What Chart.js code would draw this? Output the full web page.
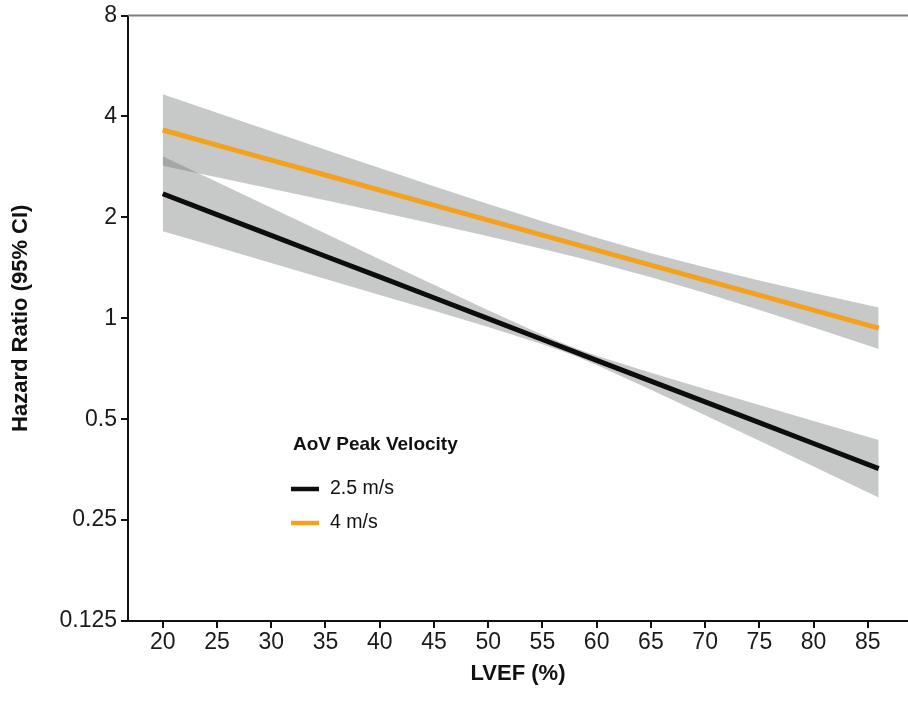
<!DOCTYPE html>
<html>
<head>
<meta charset="utf-8">
<title>Hazard ratio by LVEF</title>
<script src="https://cdn.jsdelivr.net/npm/chart.js@4/dist/chart.umd.min.js"></script>
<style>
  html, body { margin: 0; padding: 0; background: #fff; }
  #wrap { width: 908px; height: 701px; }
</style>
</head>
<body>
<div id="wrap"><canvas id="hr" width="908" height="701"></canvas></div>
<script>
// LVEF grid the curves are sampled on
const lvef = [20, 25, 30, 35, 40, 45, 50, 55, 57.5, 60, 65, 70, 75, 80, 86];

// AoV peak velocity 2.5 m/s: hazard ratio and 95% CI
const hr25      = [2.352, 2.038, 1.767, 1.531, 1.328, 1.151, 0.997, 0.864, 0.805, 0.749, 0.649, 0.563, 0.488, 0.423, 0.356];
const hr25Upper = [3.043, 2.549, 2.137, 1.791, 1.500, 1.258, 1.057, 0.893, 0.827, 0.773, 0.688, 0.615, 0.551, 0.494, 0.433];
const hr25Lower = [1.817, 1.630, 1.461, 1.310, 1.174, 1.052, 0.941, 0.837, 0.783, 0.725, 0.612, 0.514, 0.431, 0.361, 0.292];

// AoV peak velocity 4 m/s: hazard ratio and 95% CI
const hr4      = [3.643, 3.286, 2.964, 2.675, 2.412, 2.176, 1.963, 1.770, 1.682, 1.597, 1.440, 1.299, 1.172, 1.057, 0.934];
const hr4Upper = [4.661, 4.101, 3.611, 3.182, 2.805, 2.477, 2.193, 1.947, 1.841, 1.739, 1.564, 1.419, 1.297, 1.190, 1.077];
const hr4Lower = [2.848, 2.632, 2.433, 2.248, 2.074, 1.911, 1.757, 1.610, 1.538, 1.466, 1.326, 1.189, 1.059, 0.939, 0.810];

const xTicks = [20, 25, 30, 35, 40, 45, 50, 55, 60, 65, 70, 75, 80, 85];
const yTicks = [0.125, 0.25, 0.5, 1, 2, 4, 8];

const seriesNames = ["2.5 m/s", "4 m/s"];
const legendTitle = "AoV Peak Velocity";

const BLACK = "#0d0d0d";
const ORANGE = "#f4a11f";
const BAND = "rgba(100, 104, 106, 0.36)";
const FONT = '"Liberation Sans", Arial, Helvetica, sans-serif';

const pts = (ys) => lvef.map((x, i) => ({ x: x, y: ys[i] }));

const lineStyle = (label, ys, color) => ({
  label: label,
  data: pts(ys),
  borderColor: color,
  borderWidth: 5,
  pointRadius: 0,
  fill: false,
  tension: 0,
});

const bandStyle = (ys, fill) => ({
  data: pts(ys),
  borderWidth: 0,
  borderColor: "transparent",
  backgroundColor: BAND,
  pointRadius: 0,
  fill: fill,
  tension: 0,
});

// legend box inside the plot plus the thin frame line along the top
const velocityLegend = {
  id: "velocityLegend",
  afterDraw(chart, args, opts) {
    const ctx = chart.ctx;
    const area = chart.chartArea;
    ctx.save();

    ctx.strokeStyle = "#7d7d7d";
    ctx.lineWidth = 2;
    ctx.beginPath();
    ctx.moveTo(area.left, area.top);
    ctx.lineTo(area.right, area.top);
    ctx.stroke();

    ctx.textBaseline = "middle";
    ctx.fillStyle = "#111";
    ctx.font = "bold 19px " + FONT;
    ctx.fillText(legendTitle, opts.x + 2, opts.y);

    const colors = [BLACK, ORANGE];
    seriesNames.forEach((name, i) => {
      const y = opts.y + 44 + i * 34;
      ctx.strokeStyle = colors[i];
      ctx.lineWidth = 4.5;
      ctx.beginPath();
      ctx.moveTo(opts.x, y);
      ctx.lineTo(opts.x + 28, y);
      ctx.stroke();
      ctx.fillStyle = "#111";
      ctx.font = "19.5px " + FONT;
      ctx.fillText(name, opts.x + 39, y);
    });
    ctx.restore();
  },
};

const ctx = document.getElementById("hr");
window.hrChart = new Chart(ctx, {
  type: "line",
  data: {
    datasets: [
      lineStyle(seriesNames[0], hr25, BLACK),
      lineStyle(seriesNames[1], hr4, ORANGE),
      bandStyle(hr25Upper, "+1"),
      bandStyle(hr25Lower, false),
      bandStyle(hr4Upper, "+1"),
      bandStyle(hr4Lower, false),
    ],
  },
  options: {
    responsive: false,
    animation: false,
    layout: { padding: 0 },
    plugins: {
      legend: { display: false },
      tooltip: { enabled: false },
      velocityLegend: { x: 291, y: 445 },
    },
    scales: {
      x: {
        type: "linear",
        min: 16.8,
        max: 88.7,
        afterBuildTicks: (scale) => {
          scale.ticks = xTicks.map((v) => ({ value: v }));
        },
        afterFit: (scale) => {
          scale.height = 80;
        },
        ticks: {
          color: "#1a1a1a",
          font: { family: FONT, size: 23 },
          padding: 1,
          maxRotation: 0,
          autoSkip: false,
        },
        grid: {
          drawOnChartArea: false,
          color: "#111",
          lineWidth: 2,
          tickLength: 7,
        },
        border: { color: "#111", width: 2 },
        title: {
          display: true,
          text: "LVEF (%)",
          color: "#111",
          font: { family: FONT, size: 22, weight: "bold" },
          padding: { bottom: 14 },
        },
      },
      y: {
        type: "logarithmic",
        min: 0.125,
        max: 8,
        afterBuildTicks: (scale) => {
          scale.ticks = yTicks.map((v) => ({ value: v }));
        },
        afterFit: (scale) => {
          scale.width = 128;
        },
        ticks: {
          color: "#1a1a1a",
          font: { family: FONT, size: 23, lineHeight: 1 },
          padding: 4,
          autoSkip: false,
          callback: (v) => String(v),
        },
        grid: {
          drawOnChartArea: false,
          color: "#111",
          lineWidth: 2,
          tickLength: 7,
        },
        border: { color: "#111", width: 2 },
        title: {
          display: true,
          text: "Hazard Ratio (95% CI)",
          color: "#111",
          font: { family: FONT, size: 22, weight: "bold" },
          padding: { top: 8 },
        },
      },
    },
  },
  plugins: [velocityLegend],
});
</script>
</body>
</html>
